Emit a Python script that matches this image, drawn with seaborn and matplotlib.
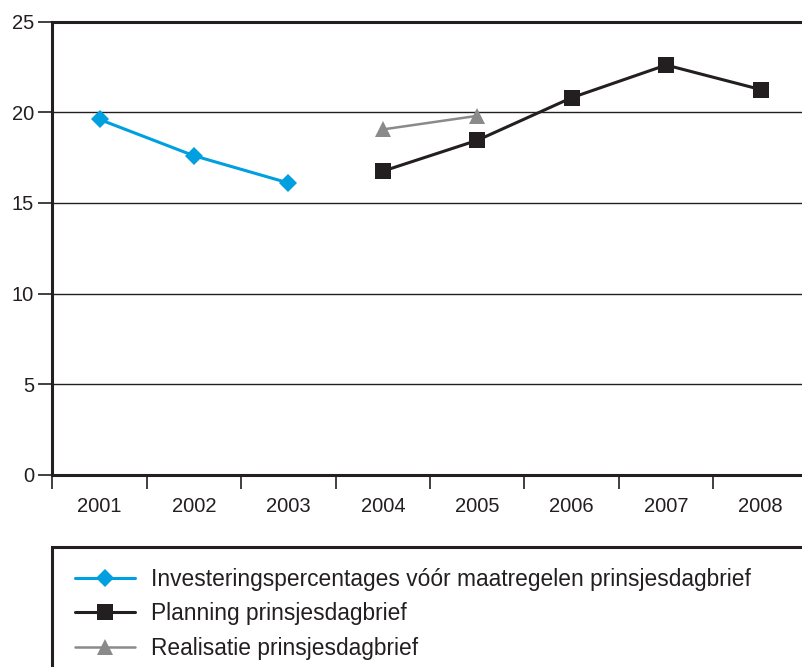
import matplotlib
matplotlib.use("Agg")
import matplotlib.pyplot as plt
import seaborn as sns
import numpy as np
import pandas as pd
from matplotlib.patches import Rectangle
from matplotlib.lines import Line2D

years = ["2001", "2002", "2003", "2004", "2005", "2006", "2007", "2008"]
invest_years = ["2001", "2002", "2003"]
invest_vals = [19.6, 17.6, 16.1]
planning_years = ["2004", "2005", "2006", "2007", "2008"]
planning_vals = [16.75, 18.45, 20.8, 22.6, 21.25]
realisatie_years = ["2004", "2005"]
realisatie_vals = [19.05, 19.8]
yticks = [0, 5, 10, 15, 20, 25]

labels = ["Investeringspercentages vóór maatregelen prinsjesdagbrief",
          "Planning prinsjesdagbrief",
          "Realisatie prinsjesdagbrief"]
colors = ["#009FDF", "#231F20", "#8A8A8A"]

sns.set_theme(style="white")
plt.rcParams['font.family'] = ['Liberation Sans', 'DejaVu Sans']

fig = plt.figure(figsize=(8.03, 6.67), dpi=100)
ax = fig.add_axes([52.3 / 803, 1 - 475 / 667, (807.8 - 52.3) / 803, (475 - 21.5) / 667])

def to_df(ys, vals):
    return pd.DataFrame({"x": [years.index(y) for y in ys], "v": vals})

d1 = to_df(invest_years, invest_vals)
d2 = to_df(planning_years, planning_vals)
d3 = to_df(realisatie_years, realisatie_vals)

sns.lineplot(data=d1, x="x", y="v", ax=ax, color=colors[0], lw=2.2, marker="D",
             markersize=9.5, markeredgewidth=0, zorder=5)
sns.lineplot(data=d3, x="x", y="v", ax=ax, color=colors[2], lw=1.8, marker="^",
             markersize=11.5, markeredgewidth=0, zorder=4)
sns.lineplot(data=d2, x="x", y="v", ax=ax, color=colors[1], lw=2.2, marker="s",
             markersize=12, markeredgewidth=0, zorder=6)

ax.set_xlim(-0.5, len(years) - 0.5)
ax.set_ylim(0, 25)
ax.set_yticks(yticks)
ax.set_yticklabels([str(t) for t in yticks], fontsize=14.5, color="#231F20")
ax.set_xticks(range(len(years)))
ax.set_xticklabels(years, fontsize=14.5, color="#231F20")
ax.set_xticks(np.arange(-0.5, len(years) - 0.5, 1.0), minor=True)
ax.tick_params(axis="x", which="major", length=0, pad=16)
ax.tick_params(axis="x", which="minor", length=10, width=1.2, color="#231F20", direction="out", bottom=True)
ax.tick_params(axis="y", which="major", length=10, width=1.2, color="#231F20", direction="out", left=True, pad=3)
ax.set_xlabel("")
ax.set_ylabel("")

for t in yticks[1:-1]:
    ax.axhline(t, color="#231F20", lw=1.0, zorder=1)

for side in ["left", "top", "bottom"]:
    ax.spines[side].set_visible(True)
    ax.spines[side].set_color("#231F20")
    ax.spines[side].set_linewidth(2.2)
ax.spines["right"].set_visible(False)

# legend box
rect = Rectangle((52.3 / 803, -0.1), 1.2, 1 - 547 / 667 + 0.1, transform=fig.transFigure,
                 fill=False, edgecolor="#231F20", lw=2.2, clip_on=False)
fig.patches.append(rect)

handles = [
    Line2D([], [], color=colors[0], lw=2.2, marker="D", markersize=9.5, markeredgewidth=0),
    Line2D([], [], color=colors[1], lw=2.2, marker="s", markersize=12, markeredgewidth=0),
    Line2D([], [], color=colors[2], lw=1.8, marker="^", markersize=11.5, markeredgewidth=0),
]
leg = fig.legend(handles, labels, loc="upper left", bbox_to_anchor=(75 / 803, 1 - 568 / 667),
                 frameon=False, fontsize=16.4, handlelength=2.65, handletextpad=0.68,
                 labelspacing=0.5, borderaxespad=0, borderpad=0)
for t in leg.get_texts():
    t.set_color("#231F20")

fig.savefig("out.png", dpi=100)
